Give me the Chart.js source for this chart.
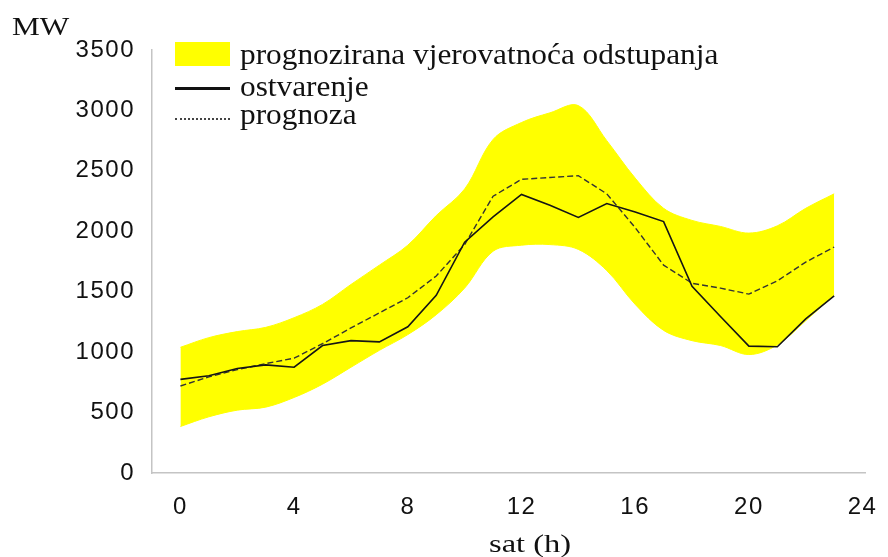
<!DOCTYPE html>
<html>
<head>
<meta charset="utf-8">
<script src="https://cdn.jsdelivr.net/npm/chart.js@4.4.1/dist/chart.umd.min.js"></script>
<style>
  body { margin: 0; background: #fff; }
  #wrap { position: relative; width: 888px; height: 557px; }
  .t { position: absolute; font-family: "Liberation Serif", "Times New Roman", serif; color: #111;
       white-space: nowrap; line-height: 1; transform-origin: left top; }
  .key { position: absolute; }
</style>
</head>
<body>
<div id="wrap">
  <canvas id="c" width="888" height="557"></canvas>

  <div class="t" style="left:12px; top:14px; font-size:26px; transform:scaleX(1.2);">MW</div>

  <div class="key" style="left:175px; top:42px; width:55px; height:24px; background:#ffff00;"></div>
  <div class="t" style="left:240px; top:40px; font-size:29px; transform:scaleX(1.08);">prognozirana vjerovatnoća odstupanja</div>

  <div class="key" style="left:175px; top:87px; width:55px; height:3px; background:#111;"></div>
  <div class="t" style="left:240px; top:72px; font-size:29px; transform:scaleX(1.08);">ostvarenje</div>

  <div class="key" style="left:175px; top:118px; width:55px; height:0; border-top:2px dotted #444;"></div>
  <div class="t" style="left:240px; top:100px; font-size:29px; transform:scaleX(1.08);">prognoza</div>

  <div class="t" style="left:489px; top:531px; font-size:25px; transform:scaleX(1.3);">sat (h)</div>
</div>

<script>
// sat u danu
let hours = [0,1,2,3,4,5,6,7,8,9,10,11,12,13,14,15,16,17,18,19,20,21,22,23];
// ostvarenje (MW)
let ostvarenje = [775, 805, 865, 895, 875, 1055, 1095, 1085, 1210, 1470, 1910, 2120,
                  2305, 2215, 2115, 2230, 2160, 2080, 1545, 1295, 1050, 1045, 1275, 1465];
// prognoza (MW)
let prognoza = [720, 795, 855, 905, 950, 1070, 1200, 1325, 1450, 1630, 1890, 2290,
                2430, 2445, 2460, 2310, 2030, 1720, 1570, 1530, 1480, 1590, 1745, 1870];
// granice vjerovatnoce odstupanja
let gornja = [1040, 1120, 1170, 1205, 1285, 1395, 1560, 1720, 1885, 2130, 2350, 2760,
              2900, 2980, 3040, 2750, 2440, 2190, 2090, 2040, 1985, 2045, 2190, 2310];
let donja = [385, 465, 520, 545, 625, 735, 875, 1015, 1145, 1310, 1530, 1835,
             1885, 1890, 1850, 1675, 1395, 1180, 1095, 1055, 980, 1060, 1260, 1475];

let xTicks = [0, 4, 8, 12, 16, 20, 24];
let yTicks = [0, 500, 1000, 1500, 2000, 2500, 3000, 3500];

function pts(arr) {
  return hours.map(function (h, i) { return { x: h, y: arr[i] }; });
}

// malo razmaka izmedju cifara kao na slici
const spacing = {
  id: 'spacing',
  beforeDraw(chart) { chart.ctx.letterSpacing = '1.5px'; }
};

new Chart(document.getElementById('c'), {
  type: 'line',
  data: {
    datasets: [
      { label: 'donja', data: pts(donja), borderColor: '#ffff00', borderWidth: 1,
        pointRadius: 0, fill: false, tension: 0.35, order: 3 },
      { label: 'gornja', data: pts(gornja), borderColor: '#ffff00', borderWidth: 1,
        backgroundColor: '#ffff00', pointRadius: 0, fill: '-1', tension: 0.35, order: 2 },
      { label: 'ostvarenje', data: pts(ostvarenje), borderColor: '#151515', borderWidth: 1.6,
        pointRadius: 0, fill: false, tension: 0, order: 0 },
      { label: 'prognoza', data: pts(prognoza), borderColor: '#333', borderWidth: 1.4,
        borderDash: [6, 3], pointRadius: 0, fill: false, tension: 0, order: 1 }
    ]
  },
  options: {
    responsive: false,
    animation: false,
    layout: { padding: { left: 0, right: 18, top: 50, bottom: 0 } },
    plugins: { legend: { display: false }, tooltip: { enabled: false } },
    scales: {
      x: {
        type: 'linear', min: -1, max: 24.1,
        afterBuildTicks: function (s) { s.ticks = xTicks.map(function (v) { return { value: v }; }); },
        afterFit: function (s) { s.height = 84; },
        grid: { display: false },
        border: { display: true, color: '#c4c4c4', width: 1.5 },
        ticks: { padding: 12, color: '#111', maxRotation: 0,
                 callback: function (v) { return String(v); },
                 font: { family: 'Liberation Sans', size: 24 } }
      },
      y: {
        min: 0, max: 3500,
        afterBuildTicks: function (s) { s.ticks = yTicks.map(function (v) { return { value: v }; }); },
        afterFit: function (s) { s.width = 152; },
        grid: { display: false },
        border: { display: true, color: '#c4c4c4', width: 1.5 },
        ticks: { padding: 9, color: '#111',
                 callback: function (v) { return String(v); },
                 font: { family: 'Liberation Sans', size: 24 } }
      }
    }
  },
  plugins: [spacing]
});
</script>
</body>
</html>
